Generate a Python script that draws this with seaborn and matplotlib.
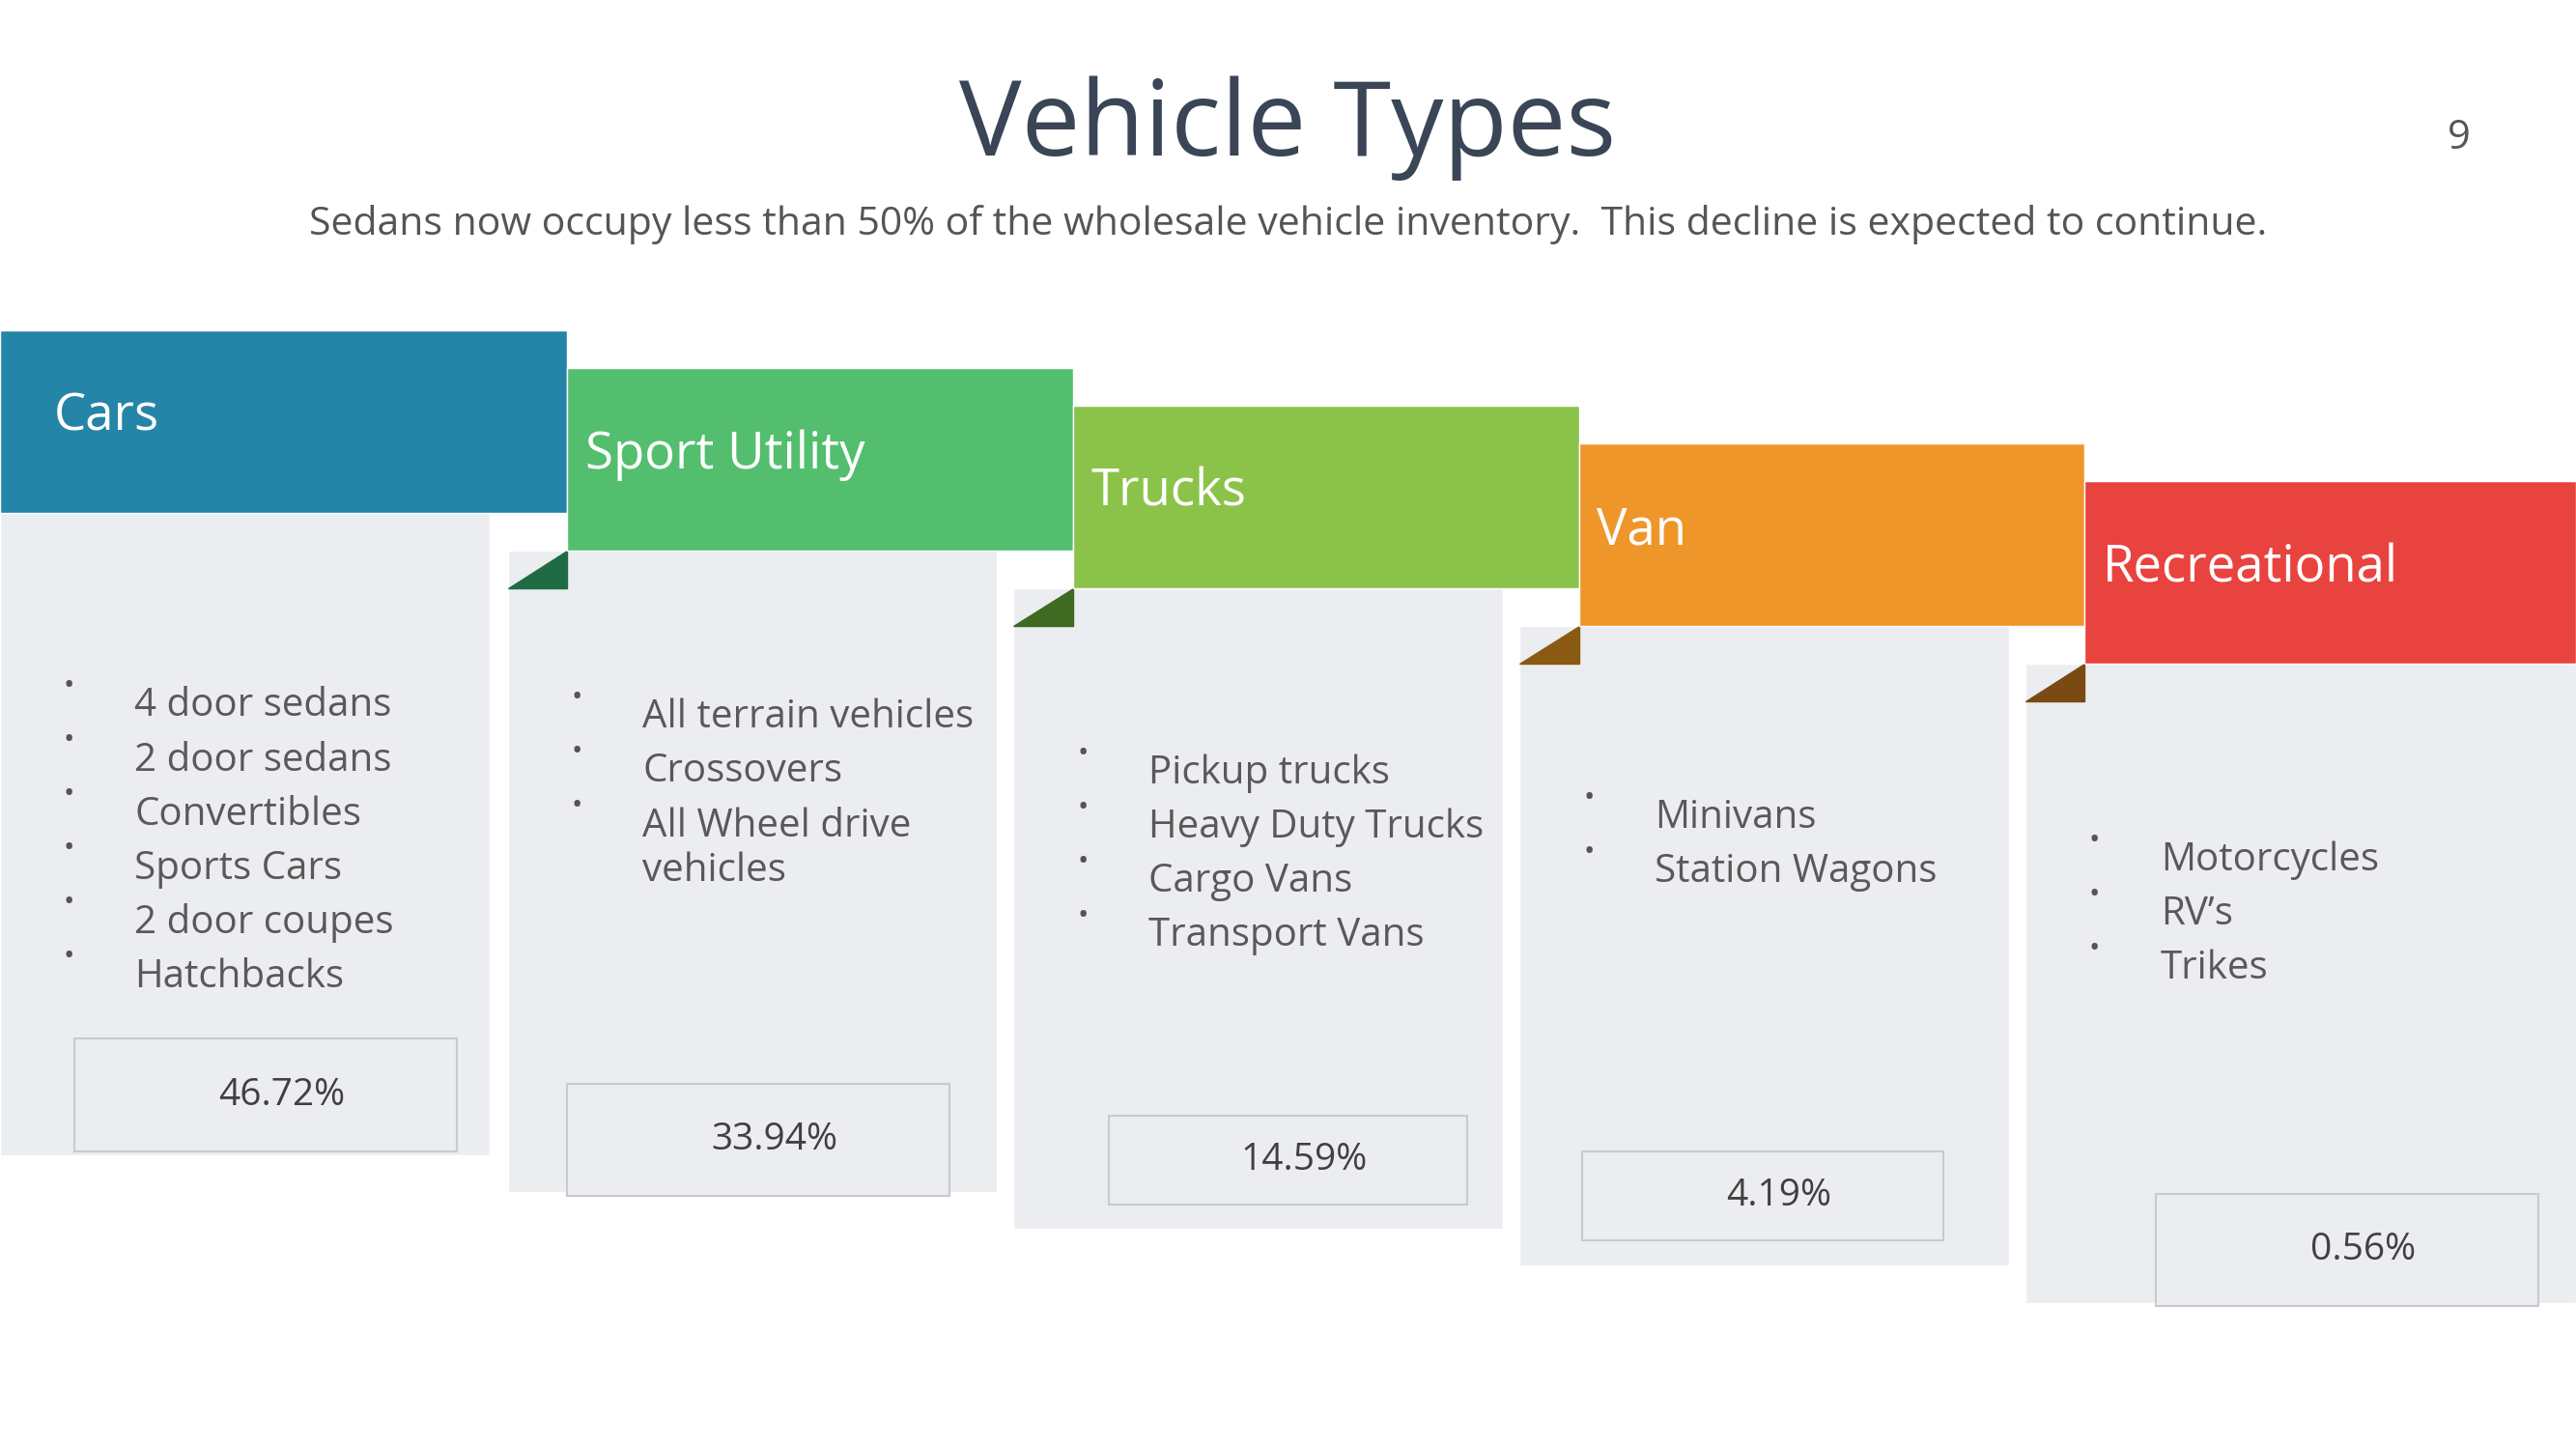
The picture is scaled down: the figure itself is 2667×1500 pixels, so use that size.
import matplotlib
matplotlib.use("Agg")
import matplotlib.pyplot as plt
import seaborn as sns
from matplotlib.patches import Polygon, Rectangle

sns.set_theme(style="white")
plt.rcParams["font.family"] = "Open Sans"

categories = ["Cars", "Sport Utility", "Trucks", "Van", "Recreational"]
shares = ["46.72%", "33.94%", "14.59%", "4.19%", "0.56%"]
items = [
    ["4 door sedans", "2 door sedans", "Convertibles", "Sports Cars", "2 door coupes", "Hatchbacks"],
    ["All terrain vehicles", "Crossovers", "All Wheel drive\nvehicles"],
    ["Pickup trucks", "Heavy Duty Trucks", "Cargo Vans", "Transport Vans"],
    ["Minivans", "Station Wagons"],
    ["Motorcycles", "RV\u2019s", "Trikes"],
]
colors = ["#2585A8", "#52BE6E", "#8BC34A", "#EF962B", "#E94340"]
darks = ["#1B5E78", "#1E6B44", "#3E6A22", "#8A5A12", "#7A4A12"]

W, H = 1568, 882
fig = plt.figure(figsize=(26.67, 15), dpi=100)
ax = fig.add_axes([0, 0, 1, 1])
ax.set_xlim(0, W); ax.set_ylim(H, 0); ax.axis("off")

head_left = [0, 345, 653, 961, 1269]
head_right = [345, 653, 961, 1269, 1568]
card_left = [0, 309, 617, 925, 1233]
card_right = [298, 607, 915, 1223, 1568]
box = [(45, 278, 632, 701), (345, 578, 660, 728), (675, 893, 679, 733), (963, 1183, 701, 755), (1312, 1545, 727, 795)]
first_y = [418, 425, 459, 486, 512]

for i, cat in enumerate(categories):
    top = 201 + 23 * i
    hb = top + 111
    bottom = 703 + 22.5 * i
    # card body
    ax.bar(card_left[i], bottom - hb, bottom=hb, width=card_right[i] - card_left[i], align="edge", color="#EBEDF0", zorder=1)
    # header
    ax.bar(head_left[i], hb - top, bottom=top, width=head_right[i] - head_left[i], align="edge", color=colors[i], zorder=3)
    if i > 0:
        ax.add_patch(Polygon([(card_left[i], hb + 23), (head_left[i], hb + 23), (head_left[i], hb)], color=darks[i], zorder=2))
    ax.text(head_left[i] + (33 if i == 0 else 11), top + 53, cat, color="white", fontsize=38, va="center", ha="left", zorder=4)
    y = first_y[i]
    for it in items[i]:
        ax.text(card_left[i] + 42, y, "\u2022", color="#555555", fontsize=22, va="center", ha="center", zorder=4)
        ax.text(card_left[i] + 82, y, it, color="#595959", fontsize=29, va="top", ha="left", zorder=4,
                linespacing=1.2, transform=ax.transData)
        y += 33 * (it.count("\n") + 1)
    x0, x1, y0, y1 = box[i]
    ax.add_patch(Rectangle((x0, y0), x1 - x0, y1 - y0, facecolor="#EBEDF0", edgecolor="#C8CACD", lw=1.5, zorder=3))
    ax.text((x0 + x1) / 2 + 10, (y0 + y1) / 2, shares[i], color="#404040", fontsize=28, ha="center", va="center", zorder=4)

# fix bullet text vertical alignment (text drawn with va=top starting at line center)
for t in ax.texts:
    pass

ax.text(784, 78, "Vehicle Types", color="#3A4556", fontsize=78, ha="center", va="center")
ax.text(784, 137, "Sedans now occupy less than 50% of the wholesale vehicle inventory.  This decline is expected to continue.",
        color="#555555", fontsize=29.5, ha="center", va="center")
ax.text(1497, 84, "9", color="#555555", fontsize=30, ha="center", va="center")

fig.savefig("out.png", dpi=100, facecolor="white")
